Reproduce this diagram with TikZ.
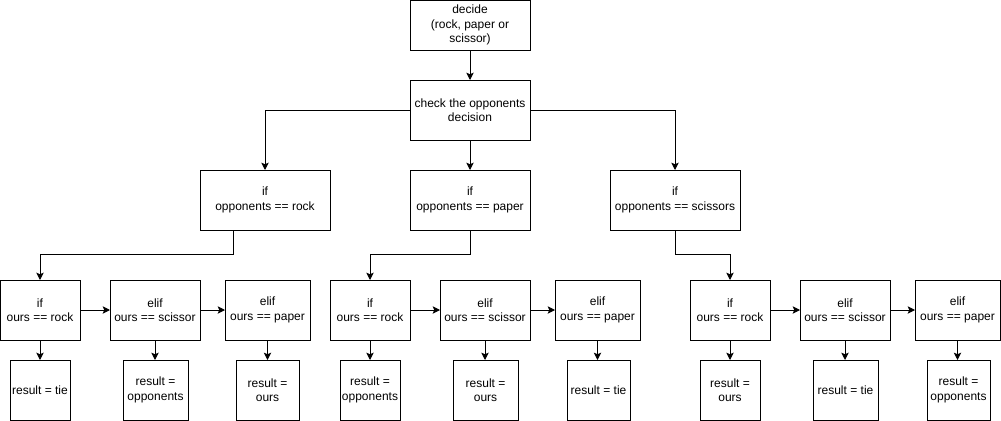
\documentclass[tikz,border=0pt]{standalone}
\usepackage{fontspec}
\setmainfont{Liberation Sans}
\usetikzlibrary{arrows.meta,calc}
\begin{document}
\begin{tikzpicture}[x=0.75pt,y=-0.75pt,
  box/.style={draw=black,line width=0.75pt,fill=white,inner sep=0pt,outer sep=0pt,
    align=center,minimum height=45pt,font=\fontsize{9}{10.8}\selectfont},
  arr/.style={draw=black,line width=0.75pt,-{Stealth[length=5.5pt,width=5.5pt,inset=1.2pt]}}]
\useasboundingbox (0,0) rectangle (1001,421);
% top
\node[box,minimum width=90pt,minimum height=37.5pt] (decide) at (470,25) {decide\\(rock, paper or\\scissor)};
\node[box,minimum width=90pt] (check) at (470,110) {check the opponents\\decision};
\node[box,minimum width=97.5pt] (o1) at (265,200) {if\\opponents == rock};
\node[box,minimum width=90pt] (o2) at (470,200) {if\\opponents == paper};
\node[box,minimum width=97.5pt] (o3) at (675,200) {if\\opponents == scissors};
% row 3
\node[box,minimum width=60pt] (a1) at (40,310) {if\\ours == rock};
\node[box,minimum width=67.5pt] (a2) at (155,310) {elif\\ours == scissor};
\node[box,minimum width=63.75pt] (a3) at (267.5,310) {elif\\ours == paper};
\node[box,minimum width=60pt] (b1) at (370,310) {if\\ours == rock};
\node[box,minimum width=67.5pt] (b2) at (485,310) {elif\\ours == scissor};
\node[box,minimum width=63.75pt] (b3) at (597.5,310) {elif\\ours == paper};
\node[box,minimum width=60pt] (c1) at (730,310) {if\\ours == rock};
\node[box,minimum width=67.5pt] (c2) at (845,310) {elif\\ours == scissor};
\node[box,minimum width=63.75pt] (c3) at (957.5,310) {elif\\ours == paper};
% row 4
\node[box,minimum width=45pt] (ra1) at (40,390) {result = tie};
\node[box,minimum width=48.75pt] (ra2) at (155.5,390) {result =\\opponents};
\node[box,minimum width=47.25pt] (ra3) at (267.5,390) {result =\\ours};
\node[box,minimum width=45pt] (rb1) at (370,390) {result =\\opponents};
\node[box,minimum width=48.75pt] (rb2) at (485.5,390) {result =\\ours};
\node[box,minimum width=47.25pt] (rb3) at (598.5,390) {result = tie};
\node[box,minimum width=45pt] (rc1) at (730,390) {result =\\ours};
\node[box,minimum width=48.75pt] (rc2) at (845.5,390) {result = tie};
\node[box,minimum width=47.25pt] (rc3) at (958.5,390) {result =\\opponents};
% connectors
\draw[arr] (decide) -- (check);
\draw[arr] (check.west) -| (o1.north);
\draw[arr] (check) -- (o2);
\draw[arr] (check.east) -| (o3.north);
\draw[arr] ($(o1.south)+(-32,0)$) -- ++(0,24.5) -| (a1.north);
\draw[arr] (o2.south) -- ++(0,24.5) -| (b1.north);
\draw[arr] (o3.south) -- ++(0,24.5) -| (c1.north);
\foreach \g in {a,b,c}{
  \draw[arr] (\g1) -- (\g2);
  \draw[arr] (\g2) -- (\g3);
  \draw[arr] (\g1.south) -- (\g1.south |- r\g1.north);
  \draw[arr] (\g2.south) -- (\g2.south |- r\g2.north);
  \draw[arr] (\g3.south) -- (\g3.south |- r\g3.north);
}
\end{tikzpicture}
\end{document}
